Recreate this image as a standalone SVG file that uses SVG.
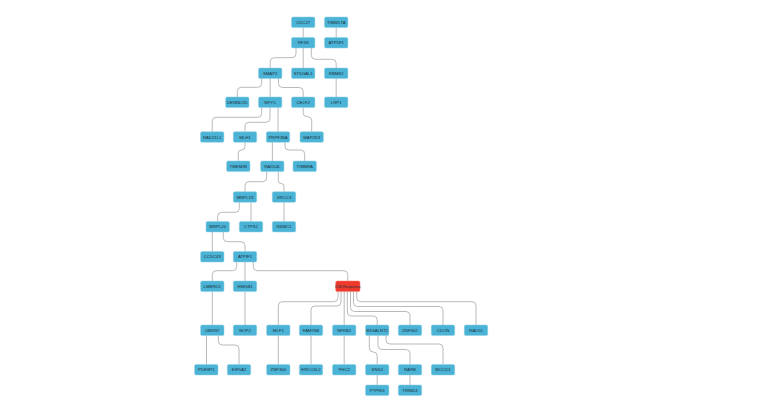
<svg xmlns="http://www.w3.org/2000/svg" width="783" height="406" viewBox="0 0 783 406">
<style>
.n rect{fill:#4bb3d5;stroke:#8ccfe5;stroke-width:0.5}
.r rect{fill:#ee3a2c;stroke:#f47a6e;stroke-width:0.5}
text{font-family:"Liberation Sans","DejaVu Sans",sans-serif;font-size:4.3px;fill:#1c3040;text-anchor:middle;dominant-baseline:central}
#edges path,#edges line{fill:none;stroke:#a8a8a8;stroke-width:0.8}
</style>
<rect width="783" height="406" fill="#ffffff"/>
<g id="edges">
<line x1="303.2" y1="27.6" x2="303.2" y2="37.4"/>
<line x1="336.2" y1="27.6" x2="336.2" y2="37.4"/>
<line x1="303.2" y1="48" x2="303.2" y2="68"/>
<line x1="270.2" y1="78.6" x2="270.2" y2="97"/>
<line x1="336.2" y1="78.6" x2="336.2" y2="97"/>
<line x1="278" y1="107.6" x2="278" y2="131.7"/>
<line x1="272.4" y1="142.3" x2="272.4" y2="161"/>
<line x1="284" y1="202.3" x2="284" y2="221.4"/>
<line x1="251" y1="202.3" x2="251" y2="221.4"/>
<line x1="212.3" y1="232" x2="212.3" y2="251.4"/>
<line x1="245" y1="262" x2="245" y2="281"/>
<line x1="212.3" y1="291.6" x2="212.3" y2="325"/>
<line x1="245" y1="291.6" x2="245" y2="325"/>
<line x1="344.2" y1="291.6" x2="344.2" y2="325"/>
<line x1="206.5" y1="335.6" x2="206.5" y2="364.4"/>
<line x1="278.3" y1="335.6" x2="278.3" y2="364.4"/>
<line x1="311" y1="335.6" x2="311" y2="364.4"/>
<line x1="344.2" y1="335.6" x2="344.2" y2="364.4"/>
<line x1="377.2" y1="375" x2="377.2" y2="385"/>
<line x1="410" y1="375" x2="410" y2="385"/>
<path d="M296 48 V53.7 Q296 57.7 292 57.7 H274.2 Q270.2 57.7 270.2 61.7 V68"/>
<path d="M311.3 48 V55.3 Q311.3 59.3 315.3 59.3 H332.2 Q336.2 59.3 336.2 63.3 V68"/>
<path d="M261.7 78.6 V83.3 Q261.7 87.3 257.7 87.3 H241.3 Q237.3 87.3 237.3 91.3 V97"/>
<path d="M278.5 78.6 V83.5 Q278.5 87.5 282.5 87.5 H299.2 Q303.2 87.5 303.2 91.5 V97"/>
<path d="M261.7 107.6 V113.3 Q261.7 117.3 257.7 117.3 H216.2 Q212.2 117.3 212.2 121.3 V131.7"/>
<path d="M270 107.6 V118.3 Q270 122.3 266 122.3 H249 Q245 122.3 245 126.3 V131.7"/>
<path d="M303.2 107.6 V112.7 Q303.2 116.7 307.2 116.7 H307.7 Q311.7 116.7 311.7 120.7 V131.7"/>
<path d="M245 142.3 V146.65 Q245 150 241.65 150 Q238.3 150 238.3 153.35 V161"/>
<path d="M285 142.3 V146 Q285 150 289 150 H300.7 Q304.7 150 304.7 154 V161"/>
<path d="M266.7 171.6 V177.7 Q266.7 181.7 262.7 181.7 H249 Q245 181.7 245 185.7 V191.7"/>
<path d="M278.3 171.6 V180.65 Q278.3 183.5 281.15 183.5 Q284 183.5 284 186.35 V191.7"/>
<path d="M239.3 202.3 V208.3 Q239.3 212.3 235.3 212.3 H221.7 Q217.7 212.3 217.7 216.3 V221.4"/>
<path d="M223.3 232 V237.7 Q223.3 241.7 227.3 241.7 H241 Q245 241.7 245 245.7 V251.4"/>
<path d="M236.7 262 V266.7 Q236.7 270.7 232.7 270.7 H216.3 Q212.3 270.7 212.3 274.7 V281"/>
<path d="M253.3 262 V266.7 Q253.3 270.7 257.3 270.7 H343.8 Q347.8 270.7 347.8 274.7 V281"/>
<path d="M338 291.6 V297.7 Q338 301.7 334 301.7 H282.3 Q278.3 301.7 278.3 305.7 V325"/>
<path d="M341 291.6 V302 Q341 306 337 306 H315 Q311 306 311 310 V325"/>
<path d="M347.3 291.6 V312 Q347.3 316 351.3 316 H373.2 Q377.2 316 377.2 320 V325"/>
<path d="M350.5 291.6 V307.5 Q350.5 311.5 354.5 311.5 H406 Q410 311.5 410 315.5 V325"/>
<path d="M353.5 291.6 V302.5 Q353.5 306.5 357.5 306.5 H439 Q443 306.5 443 310.5 V325"/>
<path d="M356.7 291.6 V297.7 Q356.7 301.7 360.7 301.7 H472 Q476 301.7 476 305.7 V325"/>
<path d="M218.3 335.6 V341 Q218.3 345 222.3 345 H235 Q239 345 239 349 V364.4"/>
<path d="M369.3 335.6 V348.1 Q369.3 352 373.2 352 H373.3 Q377.2 352 377.2 355.9 V364.4"/>
<path d="M378 335.6 V345.5 Q378 349.5 382 349.5 H406 Q410 349.5 410 353.5 V364.4"/>
<path d="M386 335.6 V340 Q386 344 390 344 H439 Q443 344 443 348 V364.4"/>
</g>
<g id="n-CDC27" class="n"><rect x="291.5" y="17" width="23.4" height="10.6" rx="1.5"/><text x="303.2" y="22.3">CDC27</text></g>
<g id="n-TIMM17A" class="n"><rect x="324.5" y="17" width="23.4" height="10.6" rx="1.5"/><text x="336.2" y="22.3">TIMM17A</text></g>
<g id="n-RFX8" class="n"><rect x="291.5" y="37.4" width="23.4" height="10.6" rx="1.5"/><text x="303.2" y="42.7">RFX8</text></g>
<g id="n-ATP5F1" class="n"><rect x="324.5" y="37.4" width="23.4" height="10.6" rx="1.5"/><text x="336.2" y="42.7">ATP5F1</text></g>
<g id="n-SMAP2" class="n"><rect x="258.5" y="68" width="23.4" height="10.6" rx="1.5"/><text x="270.2" y="73.3">SMAP2</text></g>
<g id="n-ST6GAL1" class="n"><rect x="291.5" y="68" width="23.4" height="10.6" rx="1.5"/><text x="303.2" y="73.3">ST6GAL1</text></g>
<g id="n-RBMS2" class="n"><rect x="324.5" y="68" width="23.4" height="10.6" rx="1.5"/><text x="336.2" y="73.3">RBMS2</text></g>
<g id="n-DENND2D" class="n"><rect x="225.6" y="97" width="23.4" height="10.6" rx="1.5"/><text x="237.3" y="102.3">DENND2D</text></g>
<g id="n-NFYC" class="n"><rect x="258.5" y="97" width="23.4" height="10.6" rx="1.5"/><text x="270.2" y="102.3">NFYC</text></g>
<g id="n-CELF2" class="n"><rect x="291.5" y="97" width="23.4" height="10.6" rx="1.5"/><text x="303.2" y="102.3">CELF2</text></g>
<g id="n-LRP1" class="n"><rect x="324.5" y="97" width="23.4" height="10.6" rx="1.5"/><text x="336.2" y="102.3">LRP1</text></g>
<g id="n-RAD21L1" class="n"><rect x="200.5" y="131.7" width="23.4" height="10.6" rx="1.5"/><text x="212.2" y="137">RAD21L1</text></g>
<g id="n-MLH1" class="n"><rect x="233.3" y="131.7" width="23.4" height="10.6" rx="1.5"/><text x="245" y="137">MLH1</text></g>
<g id="n-PRPF38A" class="n"><rect x="266.3" y="131.7" width="23.4" height="10.6" rx="1.5"/><text x="278" y="137">PRPF38A</text></g>
<g id="n-MAP2K3" class="n"><rect x="300" y="131.7" width="23.4" height="10.6" rx="1.5"/><text x="311.7" y="137">MAP2K3</text></g>
<g id="n-TMEM38" class="n"><rect x="226.6" y="161" width="23.4" height="10.6" rx="1.5"/><text x="238.3" y="166.3">TMEM38</text></g>
<g id="n-RAD54L" class="n"><rect x="260.6" y="161" width="23.4" height="10.6" rx="1.5"/><text x="272.3" y="166.3">RAD54L</text></g>
<g id="n-TIMM8A" class="n"><rect x="293" y="161" width="23.4" height="10.6" rx="1.5"/><text x="304.7" y="166.3">TIMM8A</text></g>
<g id="n-MRPL19" class="n"><rect x="233.3" y="191.7" width="23.4" height="10.6" rx="1.5"/><text x="245" y="197">MRPL19</text></g>
<g id="n-XRCC3" class="n"><rect x="272.3" y="191.7" width="23.4" height="10.6" rx="1.5"/><text x="284" y="197">XRCC3</text></g>
<g id="n-MRPL20" class="n"><rect x="206" y="221.4" width="23.4" height="10.6" rx="1.5"/><text x="217.7" y="226.7">MRPL20</text></g>
<g id="n-CTPS1" class="n"><rect x="239.3" y="221.4" width="23.4" height="10.6" rx="1.5"/><text x="251" y="226.7">CTPS1</text></g>
<g id="n-NSMC1" class="n"><rect x="272.3" y="221.4" width="23.4" height="10.6" rx="1.5"/><text x="284" y="226.7">NSMC1</text></g>
<g id="n-CCDC43" class="n"><rect x="200.6" y="251.4" width="23.4" height="10.6" rx="1.5"/><text x="212.3" y="256.7">CCDC43</text></g>
<g id="n-ATPIF1" class="n"><rect x="233.3" y="251.4" width="23.4" height="10.6" rx="1.5"/><text x="245" y="256.7">ATPIF1</text></g>
<g id="n-LMBRD1" class="n"><rect x="200.6" y="281" width="23.4" height="10.6" rx="1.5"/><text x="212.3" y="286.3">LMBRD1</text></g>
<g id="n-HMGB1" class="n"><rect x="233.3" y="281" width="23.4" height="10.6" rx="1.5"/><text x="245" y="286.3">HMGB1</text></g>
<g id="n-ICB" class="r"><rect x="335.7" y="281" width="24.3" height="10.6" rx="1.5"/><text x="347.8" y="286.3" style="font-size:4px">ICB Response</text></g>
<g id="n-UBXN7" class="n"><rect x="200.6" y="325" width="23.4" height="10.6" rx="1.5"/><text x="212.3" y="330.3">UBXN7</text></g>
<g id="n-NOP2" class="n"><rect x="233.3" y="325" width="23.4" height="10.6" rx="1.5"/><text x="245" y="330.3">NOP2</text></g>
<g id="n-MLF1" class="n"><rect x="266.6" y="325" width="23.4" height="10.6" rx="1.5"/><text x="278.3" y="330.3">MLF1</text></g>
<g id="n-FAM76B" class="n"><rect x="299.3" y="325" width="23.4" height="10.6" rx="1.5"/><text x="311" y="330.3">FAM76B</text></g>
<g id="n-NFKB2" class="n"><rect x="332.5" y="325" width="23.4" height="10.6" rx="1.5"/><text x="344.2" y="330.3">NFKB2</text></g>
<g id="n-B3GALNT2" class="n"><rect x="365.5" y="325" width="23.4" height="10.6" rx="1.5"/><text x="377.2" y="330.3">B3GALNT2</text></g>
<g id="n-ZNF362" class="n"><rect x="398.3" y="325" width="23.4" height="10.6" rx="1.5"/><text x="410" y="330.3">ZNF362</text></g>
<g id="n-CDON" class="n"><rect x="431.3" y="325" width="23.4" height="10.6" rx="1.5"/><text x="443" y="330.3">CDON</text></g>
<g id="n-RAD51" class="n"><rect x="464.3" y="325" width="23.4" height="10.6" rx="1.5"/><text x="476" y="330.3">RAD51</text></g>
<g id="n-PDE8P1" class="n"><rect x="194.6" y="364.4" width="23.4" height="10.6" rx="1.5"/><text x="206.3" y="369.7">PDE8P1</text></g>
<g id="n-EIF5A2" class="n"><rect x="227.3" y="364.4" width="23.4" height="10.6" rx="1.5"/><text x="239" y="369.7">EIF5A2</text></g>
<g id="n-ZNF366" class="n"><rect x="266.6" y="364.4" width="23.4" height="10.6" rx="1.5"/><text x="278.3" y="369.7">ZNF366</text></g>
<g id="n-ERCC6L2" class="n"><rect x="299.3" y="364.4" width="23.4" height="10.6" rx="1.5"/><text x="311" y="369.7">ERCC6L2</text></g>
<g id="n-PHC2" class="n"><rect x="332.5" y="364.4" width="23.4" height="10.6" rx="1.5"/><text x="344.2" y="369.7">PHC2</text></g>
<g id="n-SNX4" class="n"><rect x="365.5" y="364.4" width="23.4" height="10.6" rx="1.5"/><text x="377.2" y="369.7">SNX4</text></g>
<g id="n-RARB" class="n"><rect x="398.3" y="364.4" width="23.4" height="10.6" rx="1.5"/><text x="410" y="369.7">RARB</text></g>
<g id="n-MCCD1" class="n"><rect x="431.3" y="364.4" width="23.4" height="10.6" rx="1.5"/><text x="443" y="369.7">MCCD1</text></g>
<g id="n-PTPRG" class="n"><rect x="365.5" y="385" width="23.4" height="10.6" rx="1.5"/><text x="377.2" y="390.3">PTPRG</text></g>
<g id="n-TRIM24" class="n"><rect x="398.3" y="385" width="23.4" height="10.6" rx="1.5"/><text x="410" y="390.3">TRIM24</text></g>
</svg>
